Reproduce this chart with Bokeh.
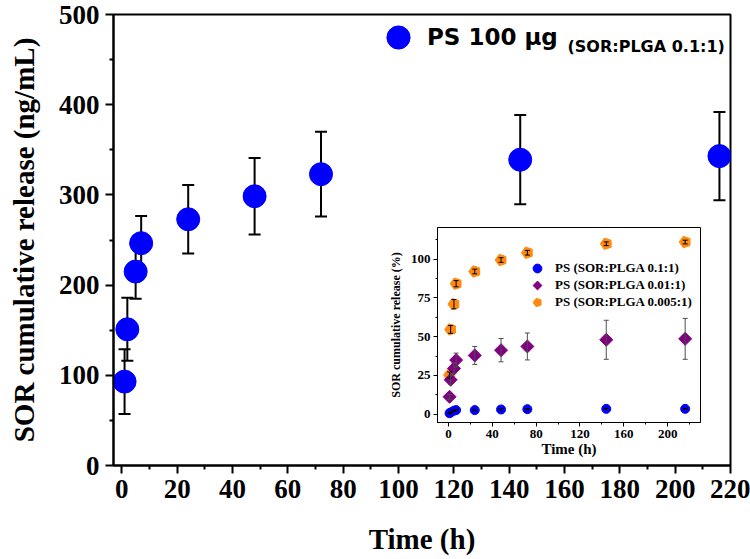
import numpy as np
from bokeh.plotting import figure
from bokeh.models import (ColumnDataSource, Whisker, TeeHead, Legend, LegendItem,
                          Label, Range1d, FixedTicker)
from bokeh.embed import file_html
from bokeh.resources import INLINE

# ---------------- data ----------------
time_h = [1, 2, 5, 7, 24, 48, 72, 144, 216]
release_ng = [93, 151, 215, 246.5, 273, 298.5, 323, 339, 343]
release_ng_err = [36, 35, 30, 30, 38, 42.5, 47, 49.5, 49]

pct_01 = [0.6, 1.1, 2.2, 2.6, 2.6, 3.0, 3.2, 3.4, 3.4]
pct_01_err = [0.3, 0.3, 0.4, 0.4, 0.4, 0.4, 0.4, 0.4, 0.4]
pct_001 = [11.2, 22.2, 29.5, 34.9, 37.9, 41.3, 43.7, 48.0, 48.6]
pct_001_err = [1.5, 3.0, 3.5, 4.5, 5.8, 7.5, 8.7, 12.6, 13.2]
pct_0005 = [25.2, 54.7, 71.0, 84.2, 92.1, 99.5, 104.2, 110.0, 111.1]
pct_0005_err = [2.0, 2.5, 3.0, 2.0, 1.5, 1.5, 1.5, 1.2, 1.2]

main_x_ticks = [0, 20, 40, 60, 80, 100, 120, 140, 160, 180, 200, 220]
main_x_minor = [10, 30, 50, 70, 90, 110, 130, 150, 170, 190, 210]
main_y_ticks = [0, 100, 200, 300, 400, 500]
main_y_minor = [50, 150, 250, 350, 450]
ins_x_ticks = [0, 40, 80, 120, 160, 200]
ins_x_minor = [20, 60, 100, 140, 180, 220]
ins_y_ticks = [0, 25, 50, 75, 100]
ins_y_minor = [12.5, 37.5, 62.5, 87.5, 112.5]

SERIF = "Liberation Serif"
SANS = "DejaVu Sans"
BLUE = "#0000FF"
PURPLE = "#800080"
ORANGE = "#FF8A10"


def style_axes(fig, lw, tick_major, tick_minor, tick_font, label_font, tick_standoff, label_standoff):
    for ax in (fig.xaxis[0], fig.yaxis[0]):
        ax.axis_line_width = lw
        ax.axis_line_color = "black"
        ax.major_tick_line_width = lw
        ax.minor_tick_line_width = lw
        ax.major_tick_line_color = "black"
        ax.minor_tick_line_color = "black"
        ax.major_tick_out = tick_major
        ax.major_tick_in = 0
        ax.minor_tick_out = tick_minor
        ax.minor_tick_in = 0
        ax.major_label_text_font = SERIF
        ax.major_label_text_font_style = "bold"
        ax.major_label_text_font_size = tick_font
        ax.major_label_text_color = "black"
        ax.major_label_standoff = tick_standoff
        ax.axis_label_text_font = SERIF
        ax.axis_label_text_font_style = "bold"
        ax.axis_label_text_font_size = label_font
        ax.axis_label_text_color = "black"
        ax.axis_label_standoff = label_standoff
    fig.grid.visible = False
    fig.outline_line_color = "black"
    fig.outline_line_width = lw


# ---------------- main figure ----------------
p = figure(frame_width=617, frame_height=451, min_border_left=113, min_border_right=20,
           min_border_top=14, min_border_bottom=94,
           x_range=Range1d(-3, 220), y_range=Range1d(0, 500),
           output_backend="svg", toolbar_location=None,
           x_axis_label="Time (h)", y_axis_label="SOR cumulative release (ng/mL)")
style_axes(p, 2, 8, 4, "27px", "29px", 6, 8)
p.xaxis.axis_label_standoff = 22
p.yaxis.axis_label_standoff = 16
p.xaxis.ticker = FixedTicker(ticks=main_x_ticks, minor_ticks=main_x_minor)
p.yaxis.ticker = FixedTicker(ticks=main_y_ticks, minor_ticks=main_y_minor)

src = ColumnDataSource(dict(
    t=time_h, y=release_ng,
    lo=[v - e for v, e in zip(release_ng, release_ng_err)],
    hi=[v + e for v, e in zip(release_ng, release_ng_err)]))
p.add_layout(Whisker(base="t", lower="lo", upper="hi", source=src, line_width=2,
                     line_color="black",
                     lower_head=TeeHead(size=12, line_width=2, line_color="black"),
                     upper_head=TeeHead(size=12, line_width=2, line_color="black")))
r_main = p.scatter("t", "y", source=src, size=23, color=BLUE)

leg = Legend(items=[LegendItem(label="PS 100 μg", renderers=[r_main])],
             location=(256, 399), padding=0, margin=0, spacing=0,
             glyph_width=58, glyph_height=58, label_standoff=0,
             border_line_color=None, background_fill_alpha=0,
             label_text_font=SANS, label_text_font_style="bold",
             label_text_font_size="23px", label_text_color="black")
p.add_layout(leg)
p.add_layout(Label(x=454, y=419, x_units="screen", y_units="screen",
                   text="(SOR:PLGA 0.1:1)", text_font=SANS, text_font_style="bold",
                   text_font_size="16px", text_color="black",
                   text_baseline="alphabetic"))

# ---------------- inset figure ----------------
ins = figure(frame_width=263, frame_height=195, min_border_left=57, min_border_right=6,
             min_border_top=7, min_border_bottom=40,
             x_range=Range1d(-10, 230), y_range=Range1d(-5.4, 120.5),
             output_backend="svg", toolbar_location=None,
             x_axis_label="Time (h)", y_axis_label="SOR cumulative release (%)",
             styles={"position": "absolute", "left": "380px", "top": "220px"})
ins.border_fill_alpha = 0
ins.background_fill_color = "white"
style_axes(ins, 1, 4, 2, "13px", "12px", 3, 5)
ins.xaxis.axis_label_text_font_size = "15px"
ins.xaxis.axis_label_standoff = 0
ins.xaxis.ticker = FixedTicker(ticks=ins_x_ticks, minor_ticks=ins_x_minor)
ins.yaxis.ticker = FixedTicker(ticks=ins_y_ticks, minor_ticks=ins_y_minor)


def series_src(vals, errs):
    return ColumnDataSource(dict(
        t=time_h, y=vals,
        lo=[v - e for v, e in zip(vals, errs)],
        hi=[v + e for v, e in zip(vals, errs)]))


s01 = series_src(pct_01, pct_01_err)
s001 = series_src(pct_001, pct_001_err)
s0005 = series_src(pct_0005, pct_0005_err)

r01 = ins.scatter("t", "y", source=s01, size=9, color=BLUE)
r0005 = ins.ngon("t", "y", radius=6, radius_units="screen", n=5, angle=np.pi / 2,
                 source=s0005, fill_color=ORANGE, line_color=ORANGE)
r001 = ins.ngon("t", "y", radius=6.5, radius_units="screen", n=4, angle=0,
                source=s001, fill_color=PURPLE, line_color=PURPLE)

for s, col in ((s01, "black"), (s0005, "black"), (s001, "#4d4d4d")):
    ins.add_layout(Whisker(base="t", lower="lo", upper="hi", source=s, line_width=1,
                           line_color=col, level="annotation",
                           lower_head=TeeHead(size=5, line_width=1, line_color=col),
                           upper_head=TeeHead(size=5, line_width=1, line_color=col)))

for lab, rend, vy in (("PS (SOR:PLGA 0.1:1)", r01, 143),
                      ("PS (SOR:PLGA 0.01:1)", r001, 126),
                      ("PS (SOR:PLGA 0.005:1)", r0005, 109)):
    ins.add_layout(Legend(items=[LegendItem(label=lab, renderers=[rend])],
                          location=(89, vy), padding=0, margin=0, spacing=0,
                          glyph_width=22, glyph_height=22, label_standoff=7,
                          border_line_color=None, background_fill_alpha=0,
                          label_text_font=SERIF, label_text_font_style="bold",
                          label_text_font_size="13px", label_text_color="black"))

open("out.html", "w").write(file_html([p, ins], INLINE))
